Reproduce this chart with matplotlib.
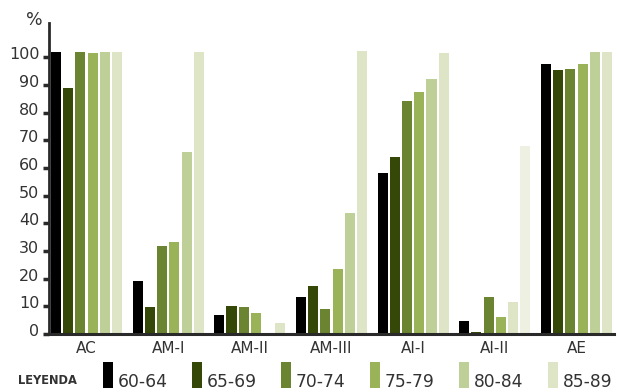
import matplotlib
matplotlib.use('Agg')
import matplotlib.pyplot as plt
import matplotlib.transforms as mtransforms
from matplotlib.patches import Rectangle
import numpy as np

categories = ['AC', 'AM-I', 'AM-II', 'AM-III', 'AI-I', 'AI-II', 'AE']
age_groups = ['60-64', '65-69', '70-74', '75-79', '80-84', '85-89']
v_60_64 = [102.0, 19.2, 6.9, 13.4, 58.2, 4.7, 97.6]
v_65_69 = [88.9, 9.8, 10.1, 17.3, 64.0, 0.7, 95.4]
v_70_74 = [102.0, 31.8, 9.8, 9.0, 84.2, 13.4, 95.8]
v_75_79 = [101.5, 33.2, 7.6, 23.5, 87.5, 6.1, 97.6]
v_80_84 = [102.0, 65.8, 0.0, 43.7, 92.2, 11.6, 102.0]
v_85_89 = [102.0, 102.0, 4.0, 102.3, 101.5, 68.0, 102.0]
series = [v_60_64, v_65_69, v_70_74, v_75_79, v_80_84, v_85_89]
yticks = [0, 10, 20, 30, 40, 50, 60, 70, 80, 90, 100]

colors = ['#000000', '#354808', '#6a8431', '#9ab258', '#bfcf98', '#dde5c6']
# special (lighter) shading used in the AI-II group
override = {(5, 4): '#dde5c6', (5, 5): '#eef0e2'}

plt.rcParams['font.family'] = ['DejaVu Sans']
txt = '#333333'

fig = plt.figure(figsize=(6.18, 3.92), dpi=100)
ax = fig.add_axes([49/618, 58/392, (614-49)/618, (334-23)/392])

x = np.arange(len(categories))
pitch = 0.1497
width = 0.123
for j, vals in enumerate(series):
    cols = [override.get((i, j), colors[j]) for i in range(len(categories))]
    ax.bar(x + (j - 2.5) * pitch, vals, width=width, color=cols, linewidth=0)

ax.set_xlim(-0.46, 6.46)
ax.set_ylim(0, 112.4)
ax.set_yticks(yticks)
ax.set_yticklabels([str(t) for t in yticks])
ax.set_xticks(x)
ax.set_xticklabels(categories)

for s in ['top', 'right']:
    ax.spines[s].set_visible(False)
ax.spines['left'].set_color('#2a2a2a')
ax.spines['left'].set_linewidth(2.0)
ax.spines['bottom'].set_color('#2a2a2a')
ax.spines['bottom'].set_linewidth(2.2)

ax.tick_params(axis='y', length=4, width=2.5, color='#2a2a2a', pad=3,
               labelsize=11.5, labelcolor=txt)
ax.tick_params(axis='x', length=0, pad=5, labelsize=11, labelcolor=txt)

off = mtransforms.ScaledTranslation(0, 4/100, fig.dpi_scale_trans)
for lab in ax.get_yticklabels():
    lab.set_transform(lab.get_transform() + off)

fig.text(34/618, 1 - 20/392, '%', ha='center', va='center', fontsize=12.5, color=txt)

# legend
fig.text(18/618, 1 - 381/392, 'LEYENDA', ha='left', va='center', fontsize=8.3,
         fontweight='bold', color=txt)
for j, lab in enumerate(age_groups):
    x0 = 103 + 89 * j
    fig.patches.append(Rectangle((x0/618, 1 - 388/392), 10/618, 26/392,
                                 transform=fig.transFigure, color=colors[j], lw=0))
    fig.text((x0 + 15)/618, 1 - 382/392, lab, ha='left', va='center',
             fontsize=12.3, color=txt)

fig.savefig('out.png', dpi=100)
